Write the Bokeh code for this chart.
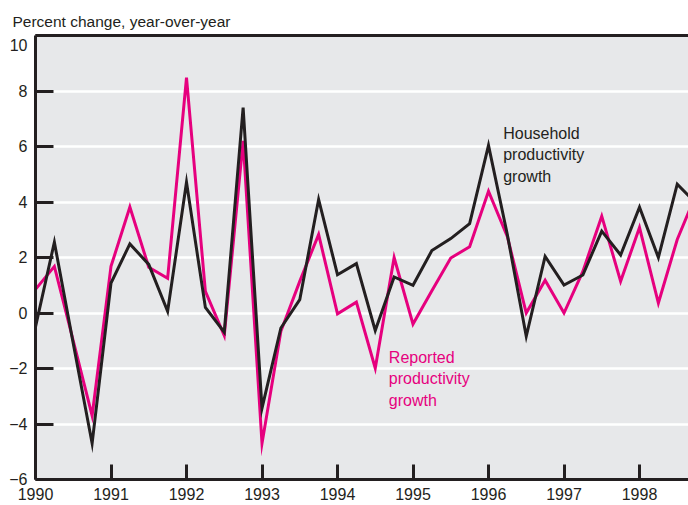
from bokeh.plotting import figure
from bokeh.models import FixedTicker, LinearAxis, Label, Range1d, ColumnDataSource, Grid
from bokeh.embed import file_html
from bokeh.resources import INLINE

# ---- data (quarterly, percent change year-over-year) ----
quarters = [1990.0, 1990.25, 1990.5, 1990.75,
            1991.0, 1991.25, 1991.5, 1991.75,
            1992.0, 1992.25, 1992.5, 1992.75,
            1993.0, 1993.25, 1993.5, 1993.75,
            1994.0, 1994.25, 1994.5, 1994.75,
            1995.0, 1995.25, 1995.5, 1995.75,
            1996.0, 1996.25, 1996.5, 1996.75,
            1997.0, 1997.25, 1997.5, 1997.75,
            1998.0, 1998.25, 1998.5, 1998.75]

household = [-0.5, 2.55, -1.1, -4.7,
             1.08, 2.49, 1.75, 0.06,
             4.71, 0.2, -0.69, 7.4,
             -3.43, -0.54, 0.48, 4.09,
             1.38, 1.78, -0.63, 1.3,
             1.0, 2.25, 2.68, 3.22,
             6.04, 2.82, -0.84, 2.04,
             1.01, 1.37, 2.95, 2.09,
             3.81, 2.0, 4.64, 3.95]

reported = [0.85, 1.68, -1.0, -3.7,
            1.68, 3.82, 1.65, 1.25,
            8.48, 0.78, -0.81, 6.2,
            -4.7, -0.66, 1.14, 2.83,
            -0.03, 0.39, -1.99, 2.0,
            -0.4, 0.8, 1.98, 2.39,
            4.39, 2.75, 0.0, 1.18,
            0.0, 1.5, 3.49, 1.14,
            3.08, 0.36, 2.65, 4.28]

year_ticks = [1990, 1991, 1992, 1993, 1994, 1995, 1996, 1997, 1998]
y_ticks = [-6, -4, -2, 0, 2, 4, 6, 8, 10]
grid_ticks = [-4, -2, 0, 2, 4, 6, 8]

title_text = "Percent change, year-over-year"
household_label = ["Household", "productivity", "growth"]
reported_label = ["Reported", "productivity", "growth"]

# ---- style ----
FONT = "Liberation Sans"
DARK = "#231f20"
PINK = "#e6007e"
BG = "#e7e8ea"

src = ColumnDataSource(dict(t=quarters, h=household, r=reported))

p = figure(width=688, height=505, output_backend="svg", toolbar_location=None,
           x_range=Range1d(1990, 1990 + 653 / 75.5), y_range=Range1d(-6, 10),
           min_border_left=35, min_border_top=35, min_border_right=0, min_border_bottom=26,
           x_axis_type=None, y_axis_type=None, title=title_text)
p.background_fill_color = BG
p.border_fill_color = "white"
p.outline_line_color = None

p.title.align = "left"
p.title.offset = -23
p.title.standoff = 12
p.title.text_font = FONT
p.title.text_font_size = "15.5px"
p.title.text_font_style = "normal"
p.title.text_color = DARK

# axes
xaxis = LinearAxis(ticker=FixedTicker(ticks=year_ticks))
xaxis.major_tick_in = 15
xaxis.major_tick_out = 0
xaxis.minor_tick_line_color = None
xaxis.major_tick_line_width = 3
xaxis.major_tick_line_color = DARK
xaxis.axis_line_width = 3
xaxis.axis_line_color = DARK
xaxis.major_label_standoff = 8
xaxis.major_label_text_font = FONT
xaxis.major_label_text_font_size = "16px"
xaxis.major_label_text_color = DARK
p.add_layout(xaxis, "below")

yaxis = LinearAxis(ticker=FixedTicker(ticks=y_ticks))
yaxis.major_tick_in = 18
yaxis.major_tick_out = 0
yaxis.minor_tick_line_color = None
yaxis.major_tick_line_width = 3
yaxis.major_tick_line_color = DARK
yaxis.axis_line_width = 3
yaxis.axis_line_color = DARK
yaxis.major_label_standoff = 8
yaxis.major_label_text_font = FONT
yaxis.major_label_text_font_size = "16px"
yaxis.major_label_text_color = DARK
yaxis.major_label_overrides = {10: "\n10", -6: "\u22126", -4: "\u22124", -2: "\u22122"}
p.add_layout(yaxis, "left")

top = LinearAxis(ticker=FixedTicker(ticks=[]))
top.major_tick_line_color = None
top.minor_tick_line_color = None
top.major_label_text_font_size = "0px"
top.major_label_standoff = 0
top.axis_line_width = 3
top.axis_line_color = DARK
p.add_layout(top, "above")

# grid
p.xgrid.visible = False
p.ygrid.visible = False
g = Grid(dimension=1, ticker=FixedTicker(ticks=grid_ticks),
         grid_line_color="white", grid_line_width=2.5)
p.add_layout(g)

# lines
p.line("t", "r", source=src, line_color=PINK, line_width=3, line_join="miter")
p.line("t", "h", source=src, line_color=DARK, line_width=3, line_join="miter")

# annotations
for i, s in enumerate(household_label):
    p.add_layout(Label(x=1996.195, y=6.29, y_offset=5 - 21.5 * i, text=s,
                       text_align="left", text_baseline="alphabetic",
                       text_font=FONT, text_font_size="16px", text_color=DARK))
for i, s in enumerate(reported_label):
    p.add_layout(Label(x=1994.68, y=-1.78, y_offset=5 - 21.5 * i, text=s,
                       text_align="left", text_baseline="alphabetic",
                       text_font=FONT, text_font_size="16px", text_color=PINK))

open("out.html", "w").write(file_html(p, INLINE))
